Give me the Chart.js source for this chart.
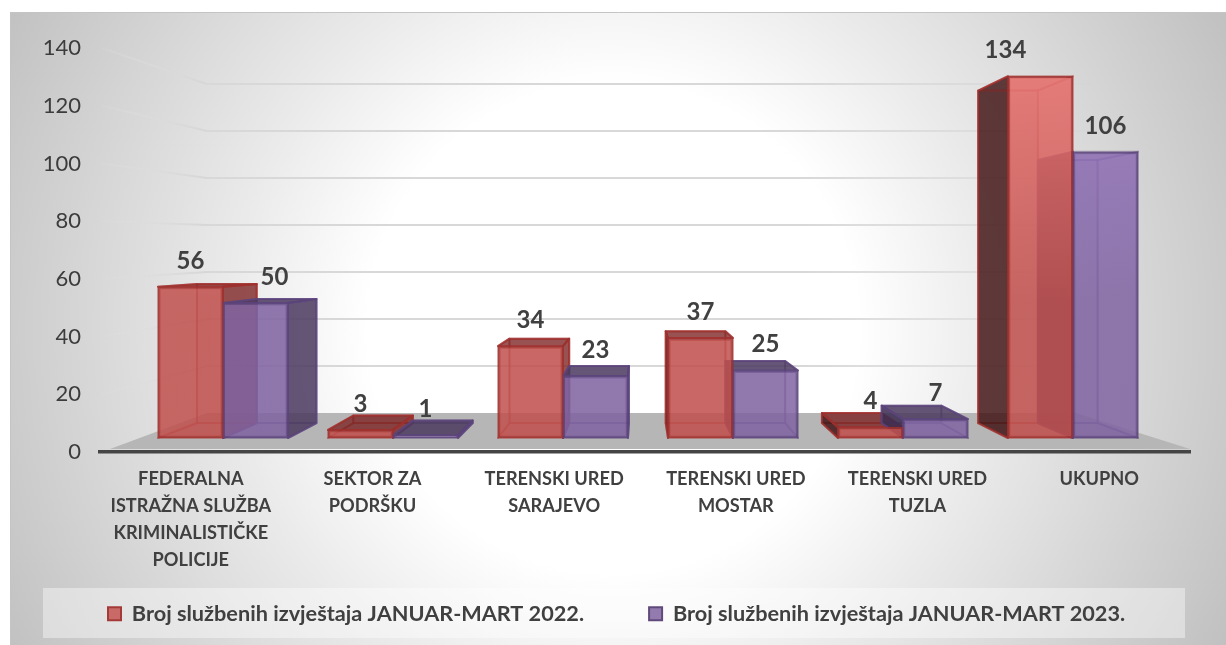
<!DOCTYPE html>
<html><head><meta charset="utf-8">
<style>html,body{margin:0;padding:0;background:#fff}#w{width:1226px;height:645px}canvas{display:block}</style>
<script src="https://cdn.jsdelivr.net/npm/chart.js@4"></script>
</head><body><div id="w"><canvas id="c" width="1226" height="645"></canvas></div>
<script>
const categories = [
  ['FEDERALNA','ISTRAŽNA SLUŽBA','KRIMINALISTIČKE','POLICIJE'],
  ['SEKTOR ZA','PODRŠKU'],
  ['TERENSKI URED','SARAJEVO'],
  ['TERENSKI URED','MOSTAR'],
  ['TERENSKI URED','TUZLA'],
  ['UKUPNO']
];
const series2022 = [56, 3, 34, 37, 4, 134];
const series2023 = [50, 1, 23, 25, 7, 106];
const seriesNames = ['Broj službenih izvještaja JANUAR-MART 2022.','Broj službenih izvještaja JANUAR-MART 2023.'];
const yTickStep = 20, yMax = 140;

const FONT = 'Lato, Carlito, sans-serif', TEXT = '#404040';
const VP = {a:.919, bx:51.8, by:20.5, cx:640};
const proj = (x,y)=>[VP.a*x+VP.bx, VP.a*y+VP.by];
const RED = {border:'rgba(160,48,46,.85)', line:'rgba(165,50,48,.38)', side:'rgba(120,30,28,.75)', left:'rgba(60,15,15,.8)', inner:'rgba(150,40,38,.08)', top:[230,115,112], low:[192,80,77], solid:'#C96A68', solidB:'#A33A38'};
const PUR = {border:'rgba(92,68,125,.85)', line:'rgba(90,66,122,.38)', side:'rgba(76,59,96,.85)', left:'rgba(60,45,80,.85)', inner:'rgba(70,50,100,.08)', top:[150,118,190], low:[128,100,162], solid:'#937BB0', solidB:'#604A7B'};
const LABEL_NUDGE = {'0:1':19, '5:0':-35};
const LEGEND_GAP = 65;

function poly(ctx, pts, fill, stroke, lw){
  ctx.beginPath(); pts.forEach((p,i)=> i?ctx.lineTo(p[0],p[1]):ctx.moveTo(p[0],p[1])); ctx.closePath();
  if(fill){ctx.fillStyle=fill;ctx.fill();}
  if(stroke){ctx.strokeStyle=stroke;ctx.lineWidth=lw||2;ctx.lineJoin='round';ctx.stroke();}
}
function gradFor(chart, s){
  const g = chart.ctx.createLinearGradient(0,70,0,300);
  g.addColorStop(0,`rgba(${s.top},.9)`); g.addColorStop(1,`rgba(${s.low},.85)`);
  return g;
}
function box3d(ctx, el, s){
  const x0=el.x-el.width/2, x1=el.x+el.width/2, t=el.y, b=el.base;
  const ft0=[x0,t], ft1=[x1,t], fb0=[x0,b], fb1=[x1,b];
  const bt0=proj(x0,t), bt1=proj(x1,t), bb0=proj(x0,b), bb1=proj(x1,b);
  poly(ctx,[bb0,bb1,bt1,bt0],s.inner,s.line,2);
  poly(ctx,[fb0,fb1,bb1,bb0],s.inner,s.line,2);
  if(x0>VP.cx) poly(ctx,[ft0,bt0,bb0,fb0],s.left,s.border,2); else poly(ctx,[ft0,bt0,bb0,fb0],null,s.line,2);
  if(x1<VP.cx) poly(ctx,[ft1,bt1,bb1,fb1],s.side,s.border,2); else poly(ctx,[ft1,bt1,bb1,fb1],null,s.line,2);
  if(bt0[1]<t) poly(ctx,[ft0,ft1,bt1,bt0],s.side,s.border,2); else poly(ctx,[ft0,ft1,bt1,bt0],null,s.line,2);
}
const scene = {
  id:'scene',
  afterLayout(chart){
    const l=chart.legend; if(l){ l.top = 603-LEGEND_GAP; l.left = 43; l.right = 1226; }
    chart.scales.x.bottom = 645;
  },
  beforeDraw(chart){
    const ctx=chart.ctx, y=chart.scales.y, a=chart.chartArea;
    ctx.save();
    const g=ctx.createRadialGradient(613,328,0,613,328,700);
    g.addColorStop(0,'#ffffff'); g.addColorStop(.35,'#ffffff'); g.addColorStop(.55,'#eaeaea'); g.addColorStop(1,'#bfbfbf');
    ctx.fillStyle=g; ctx.fillRect(10,12,1216,633);
    ctx.strokeStyle='#c4c4c4'; ctx.lineWidth=1; ctx.beginPath(); ctx.moveTo(10.5,645); ctx.lineTo(10.5,12.5); ctx.lineTo(1226,12.5); ctx.stroke();
    ctx.fillStyle='rgba(255,255,255,.4)'; ctx.fillRect(43,588,1142,50);
    const back = v => .8144*y.getPixelForValue(v)+45;
    poly(ctx,[[a.left+10,a.bottom-3],[207,back(0)],[1076,back(0)],[a.right,a.bottom-3]],'#b6b6b6');
    y.ticks.forEach(t=>{
      if(t.value===0) return;
      const py=y.getPixelForValue(t.value), by=back(t.value);
      const d=ctx.createLinearGradient(a.left,0,207,0);
      d.addColorStop(0,'rgba(225,225,225,.1)'); d.addColorStop(1,'rgba(214,214,214,1)');
      ctx.strokeStyle=d; ctx.lineWidth=2; ctx.beginPath(); ctx.moveTo(a.left+2,py); ctx.lineTo(207,by); ctx.stroke();
      const h=ctx.createLinearGradient(800,0,1095,0);
      h.addColorStop(0,'rgba(216,216,216,1)'); h.addColorStop(1,'rgba(210,210,210,.25)');
      ctx.strokeStyle=h; ctx.beginPath(); ctx.moveTo(207,by); ctx.lineTo(1092,by); ctx.stroke();
    });
    ctx.restore();
  },
  beforeDatasetsDraw(chart){
    const ctx=chart.ctx; ctx.save();
    const m0=chart.getDatasetMeta(0).data, m1=chart.getDatasetMeta(1).data;
    m0.forEach((el,i)=>{ box3d(ctx,el,RED); box3d(ctx,m1[i],PUR); });
    ctx.restore();
  },
  afterDatasetsDraw(chart){
    const ctx=chart.ctx; ctx.save();
    ctx.font='bold 24px '+FONT; ctx.fillStyle=TEXT; ctx.textAlign='center'; ctx.textBaseline='middle';
    chart.data.datasets.forEach((ds,d)=>{
      chart.getDatasetMeta(d).data.forEach((el,i)=>{
        ctx.fillText(String(ds.data[i].y), el.x+(LABEL_NUDGE[i+':'+d]||0), el.y-26);
      });
    });
    ctx.restore();
  }
};
const toPts = arr => arr.map((v,i)=>({x:i,y:v}));
const mk = (name,arr,s)=>({
  label:name, data:toPts(arr), xAxisID:'x2', yAxisID:'y2', barThickness:65,
  backgroundColor:c=>gradFor(c.chart,s), borderColor:s.border, borderWidth:2.2, borderSkipped:false
});
new Chart(document.getElementById('c'),{
  type:'bar',
  data:{labels:categories, datasets:[mk(seriesNames[0],series2022,RED), mk(seriesNames[1],series2023,PUR)]},
  options:{
    responsive:false, animation:false, devicePixelRatio:1,
    layout:{padding:{left:41,right:36,top:48,bottom:0}},
    plugins:{
      tooltip:{enabled:false},
      legend:{position:'bottom',align:'start',
        labels:{padding:LEGEND_GAP,boxWidth:13,boxHeight:13,color:TEXT,font:{family:FONT,size:21.7,weight:'bold'},
          generateLabels:()=>[RED,PUR].map((s,i)=>({text:seriesNames[i],fillStyle:s.solid,strokeStyle:s.solidB,lineWidth:2,datasetIndex:i,fontColor:TEXT}))}}
    },
    scales:{
      x:{type:'category',offset:true,grid:{display:false},border:{display:true,color:'#454545',width:3.5},
        afterFit:s=>{s.height=193-((s.chart.legend&&s.chart.legend.height)||160);},
        ticks:{autoSkip:false,maxRotation:0,minRotation:0,padding:6,color:TEXT,font:{family:FONT,size:18.2,weight:'bold',lineHeight:1.47}}},
      y:{type:'linear',position:'left',min:0,max:yMax,grid:{display:false,drawTicks:false},border:{display:false},
        afterFit:s=>{s.width=59;},
        ticks:{stepSize:yTickStep,padding:19,color:'#3c3c3c',font:{family:FONT,size:22}}},
      x2:{type:'linear',axis:'x',position:'bottom',display:false,min:(100-223)/170,max:(1190-223)/170,offset:false},
      y2:{type:'linear',axis:'y',position:'left',display:false,min:-14/2.7,max:(438-48)/2.7}
    }
  },
  plugins:[scene]
});
</script></body></html>
